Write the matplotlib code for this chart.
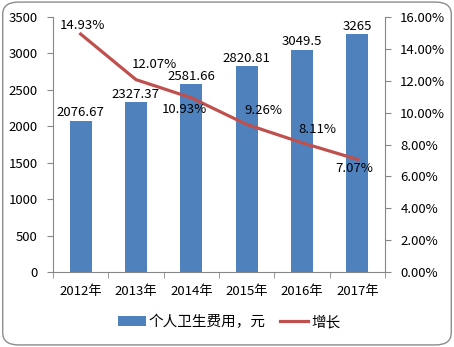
import matplotlib.pyplot as plt
from matplotlib.patches import FancyBboxPatch
import numpy as np

plt.rcParams['font.family'] = ['Noto Sans CJK SC', 'DejaVu Sans']

years = ['2012年', '2013年', '2014年', '2015年', '2016年', '2017年']
spend = [2076.67, 2327.37, 2581.66, 2820.81, 3049.5, 3265]
spend_labels = ['2076.67', '2327.37', '2581.66', '2820.81', '3049.5', '3265']
growth = [14.93, 12.07, 10.93, 9.26, 8.11, 7.07]
# label offsets from the point, in pixels (dx, dy)
growth_offsets = [(2, 9), (18, 15), (-7, -12), (17, 14), (15, 13), (-3, -9)]

bar_c = '#4F81BD'
line_c = '#C0504D'
axis_c = '#868686'

fig = plt.figure(figsize=(4.54, 3.47), dpi=100)
# rounded outer border
fig.patches.append(FancyBboxPatch((0.006, 0.006), 0.988, 0.988, boxstyle='round,pad=0,rounding_size=0.035',
                                  transform=fig.transFigure, fc='none', ec='#8c8c8c', lw=1.0, zorder=-1))

ax = fig.add_axes([0.1167, 0.216, 0.7313, 0.735])
x = np.arange(len(years))
bars = ax.bar(x, spend, width=0.4, color=bar_c, label='个人卫生费用，元', zorder=2)
ax.set_xlim(-0.5, len(years) - 0.5)
ax.set_ylim(0, 3500)
ax.set_yticks(np.arange(0, 3501, 500))
ax.set_xticks(x)
ax.set_xticklabels(years, fontsize=9.5)
ax.set_xticks(np.arange(-0.5, len(years), 1), minor=True)
ax.tick_params(axis='x', which='major', length=0, pad=9)
ax.tick_params(axis='x', which='minor', length=4, color=axis_c, direction='out')
ax.tick_params(axis='y', labelsize=9.5, length=4, color=axis_c, direction='out', pad=7)
for s in ['top', 'right']:
    ax.spines[s].set_visible(False)
for s in ['left', 'bottom']:
    ax.spines[s].set_color(axis_c)
ax.patch.set_alpha(0)

for xi, v, t in zip(x, spend, spend_labels):
    ax.annotate(t, (xi, v), xytext=(0, 1), textcoords='offset points', ha='center', va='bottom', fontsize=9.5)

ax2 = ax.twinx()
ax2.plot(x, growth, color=line_c, lw=2.3, label='增长', zorder=3)
ax2.set_ylim(0, 16)
ax2.set_yticks(np.arange(0, 16.1, 2))
ax2.set_yticklabels(['%.2f%%' % v for v in np.arange(0, 16.1, 2)])
ax2.tick_params(axis='y', labelsize=9.5, length=4, color=axis_c, direction='out', pad=7)
for s in ['top', 'left', 'bottom']:
    ax2.spines[s].set_visible(False)
ax2.spines['right'].set_color(axis_c)

for xi, v, off in zip(x, growth, growth_offsets):
    ax2.annotate('%.2f%%' % v, (xi, v), xytext=off, textcoords='offset pixels',
                 ha='center', va='center', fontsize=9.5)

h1, l1 = ax.get_legend_handles_labels()
h2, l2 = ax2.get_legend_handles_labels()
fig.legend(h1 + h2, l1 + l2, loc='center', bbox_to_anchor=(0.505, 0.072), ncol=2, frameon=False,
           fontsize=10.5, handlelength=1.9, handleheight=0.6, columnspacing=1.0, handletextpad=0.2)

fig.savefig('out.png', dpi=100)
